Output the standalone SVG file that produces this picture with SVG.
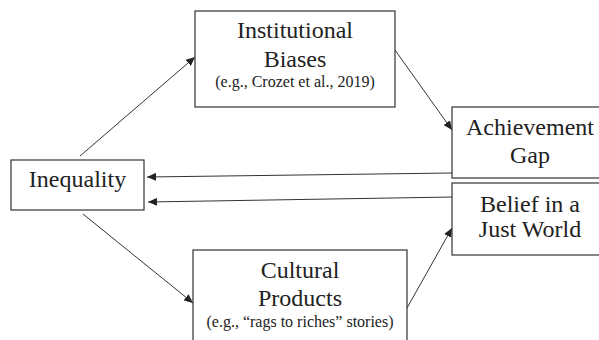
<svg xmlns="http://www.w3.org/2000/svg" width="599" height="340" viewBox="0 0 599 340">
<style>
.box{fill:#fff;stroke:#333;stroke-width:1.2}
.t{font-family:"Liberation Serif","Times New Roman",serif;font-size:24px;fill:#222;text-anchor:middle}
.s{font-family:"Liberation Serif","Times New Roman",serif;font-size:16px;fill:#222;text-anchor:middle}
.c{stroke:#333;stroke-width:1;fill:none;marker-end:url(#ah)}
</style>
<defs>
<marker id="ah" markerUnits="userSpaceOnUse" markerWidth="10" markerHeight="8" refX="9" refY="4" orient="auto">
<path d="M0,0 L9,4 L0,8 Z" fill="#222"/>
</marker>
</defs>
<rect width="599" height="340" fill="#fff"/>
<g id="connectors">
<line class="c" x1="80" y1="156" x2="195" y2="57"/>
<line class="c" x1="83" y1="214" x2="193" y2="303"/>
<line class="c" x1="395" y1="50" x2="452" y2="130"/>
<line class="c" x1="452" y1="173" x2="147" y2="177"/>
<line class="c" x1="453" y1="197" x2="148" y2="202"/>
<line class="c" x1="407" y1="308" x2="452" y2="228"/>
</g>
<g id="institutional">
<rect class="box" x="195" y="11" width="200" height="96"/>
<text class="t" x="295" y="38">Institutional</text>
<text class="t" x="295" y="67">Biases</text>
<text class="s" x="295" y="87">(e.g., Crozet et al., 2019)</text>
</g>
<g id="inequality">
<rect class="box" x="11" y="160" width="133" height="50"/>
<text class="t" x="77.5" y="187">Inequality</text>
</g>
<g id="achievement">
<rect class="box" x="452" y="107" width="156" height="71"/>
<text class="t" x="530" y="135">Achievement</text>
<text class="t" x="530" y="163">Gap</text>
</g>
<g id="belief">
<rect class="box" x="452" y="183" width="156" height="72"/>
<text class="t" x="530" y="212">Belief in a</text>
<text class="t" x="530" y="237">Just World</text>
</g>
<g id="cultural">
<rect class="box" x="193" y="250" width="214" height="100"/>
<text class="t" x="300" y="278">Cultural</text>
<text class="t" x="300" y="306">Products</text>
<text class="s" x="300" y="327">(e.g., “rags to riches” stories)</text>
</g>
</svg>
